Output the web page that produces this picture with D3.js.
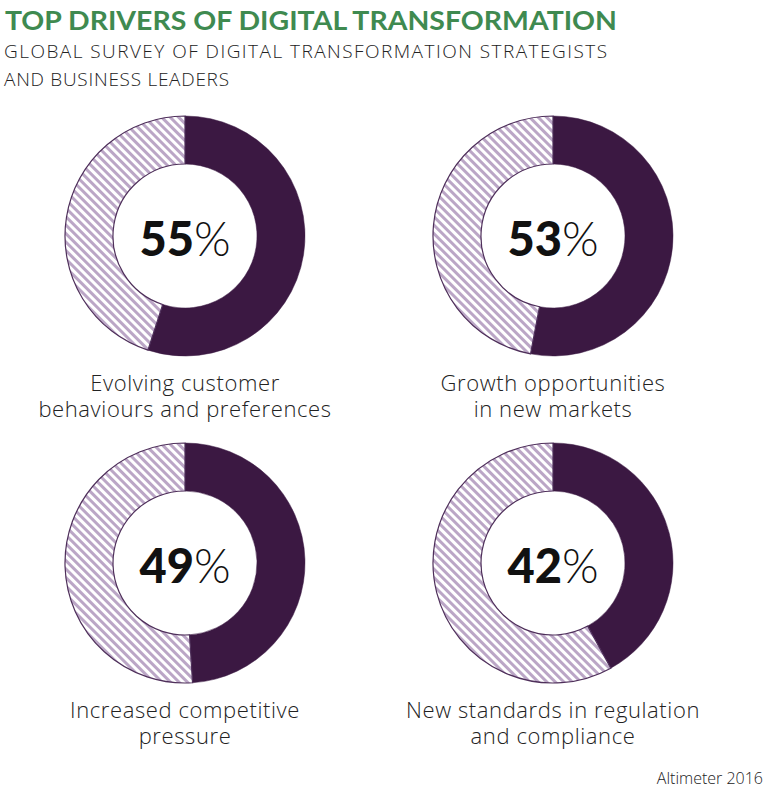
<!DOCTYPE html>
<html>
<head>
<meta charset="utf-8">
<script src="https://d3js.org/d3.v7.min.js"></script>
<style>
  body { margin: 0; background: #fff; }
  svg { display: block; }
  .title { font-family: "Lato", sans-serif; font-weight: 700; fill: #3f8a50; }
  .sub { font-family: "Open Sans", sans-serif; font-weight: 300; fill: #222; }
  .lab { font-family: "Open Sans", sans-serif; font-weight: 300; fill: #222; }
  .pct { font-family: "Lato", sans-serif; font-weight: 900; fill: #111; }
</style>
</head>
<body>
<svg width="766" height="790"></svg>
<script>
// data
var drivers = ["Evolving customer behaviours and preferences",
               "Growth opportunities in new markets",
               "Increased competitive pressure",
               "New standards in regulation and compliance"];
var shares = [55, 53, 49, 42];
var labelLines = [["Evolving customer", "behaviours and preferences"],
                  ["Growth opportunities", "in new markets"],
                  ["Increased competitive", "pressure"],
                  ["New standards in regulation", "and compliance"]];

var svg = d3.select("svg");
var dark = "#3b1842", hatch = "#bba6c6", edge = "#4e2f5a";

var defs = svg.append("defs");
var pat = defs.append("pattern")
  .attr("id", "hatch")
  .attr("patternUnits", "userSpaceOnUse")
  .attr("width", 6).attr("height", 6)
  .attr("patternTransform", "rotate(-45)");
pat.append("rect").attr("width", 6).attr("height", 6).attr("fill", "#fff");
pat.append("rect").attr("width", 3).attr("height", 6).attr("fill", hatch);

svg.append("text").attr("class", "title")
  .attr("x", 5).attr("y", 30)
  .attr("font-size", 27)
  .attr("textLength", 612).attr("lengthAdjust", "spacingAndGlyphs")
  .text("TOP DRIVERS OF DIGITAL TRANSFORMATION");
svg.append("text").attr("class", "sub")
  .attr("x", 4).attr("y", 58).attr("font-size", 19)
  .attr("textLength", 603).attr("lengthAdjust", "spacing")
  .text("GLOBAL SURVEY OF DIGITAL TRANSFORMATION STRATEGISTS");
svg.append("text").attr("class", "sub")
  .attr("x", 4).attr("y", 86).attr("font-size", 19)
  .attr("textLength", 225).attr("lengthAdjust", "spacing")
  .text("AND BUSINESS LEADERS");

var cx = d3.scaleOrdinal().domain([0, 1]).range([185, 553]);
var cy = d3.scaleOrdinal().domain([0, 1]).range([236, 563]);

var rOut = 120, rIn = 72;
var arc = d3.arc().innerRadius(rIn).outerRadius(rOut);
var pie = d3.pie().sort(null).value(function(d) { return d; });

var g = svg.selectAll("g.donut")
  .data(shares)
  .enter().append("g")
  .attr("class", "donut")
  .attr("transform", function(d, i) { return "translate(" + cx(i % 2) + "," + cy(Math.floor(i / 2)) + ")"; });

g.selectAll("path")
  .data(function(d) { return pie([d, 100 - d]); })
  .enter().append("path")
  .attr("d", arc)
  .attr("fill", function(d, i) { return i == 0 ? dark : "url(#hatch)"; })
  .attr("stroke", function(d, i) { return i == 0 ? dark : edge; })
  .attr("stroke-width", function(d, i) { return i == 0 ? 0.5 : 1.2; });

var t = g.append("text").attr("class", "pct")
  .attr("text-anchor", "middle")
  .attr("y", 20)
  .attr("font-size", 47);
t.append("tspan").text(function(d) { return d; });
t.append("tspan").attr("font-weight", 300).text("%");

g.each(function(d, i) {
  var lines = labelLines[i];
  d3.select(this).selectAll("text.lab")
    .data(lines)
    .enter().append("text")
    .attr("class", "lab")
    .attr("text-anchor", "middle")
    .attr("font-size", 22)
    .attr("letter-spacing", 0.6)
    .attr("y", function(l, j) { return 155 + j * 26; })
    .text(function(l) { return l; });
});

svg.append("text").attr("class", "lab")
  .attr("x", 763).attr("y", 784)
  .attr("text-anchor", "end").attr("font-size", 16)
  .attr("font-weight", 400)
  .text("Altimeter 2016");
</script>
</body>
</html>
